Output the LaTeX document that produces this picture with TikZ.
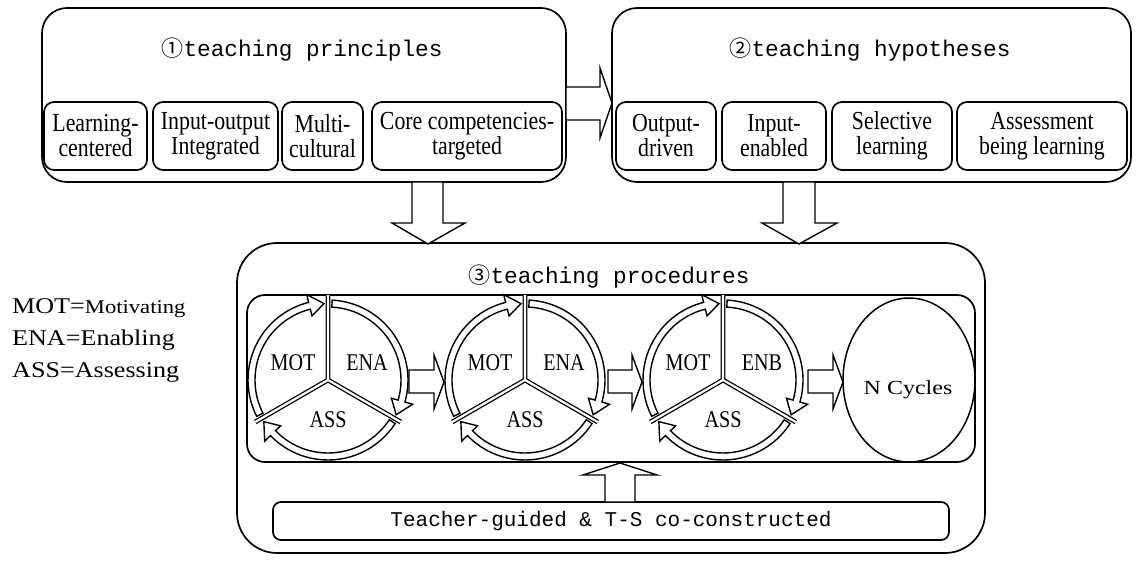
\documentclass[tikz,border=0pt]{standalone}
\usepackage{fontspec}
\setmainfont{Liberation Serif}
\newfontfamily\boxf[FakeStretch=0.84]{Liberation Serif}
\newfontfamily\legf[FakeStretch=1.16]{Liberation Serif}
\newfontfamily\ncf[FakeStretch=1.2]{Liberation Serif}
\newfontfamily\monof{Liberation Mono}
\newfontfamily\circf{Noto Sans CJK SC}
\usetikzlibrary{shapes.geometric,calc}
\tikzset{
  frame/.style={draw, line width=1.7pt, rounded corners=#1, inner sep=0pt, fill=white},
  subbox/.style={frame=10pt, minimum height=68pt, align=center,
    font=\boxf\fontsize{26}{25}\selectfont},
  ttl/.style={font=\monof\fontsize{22.7}{24}\selectfont, inner sep=0pt},
  blk/.style={draw, fill=white, line width=1.4pt, line join=miter},
  arcst/.style={draw, fill=white, line width=1.4pt, line join=miter},
  lab/.style={font=\boxf\fontsize{24}{24}\selectfont, inner sep=0pt},
  leg/.style={font=\legf\fontsize{22.5}{24}\selectfont, inner sep=0pt, anchor=base west},
}
\newcommand\cnum[1]{{\circf\fontsize{22}{22}\selectfont #1}}
\newcommand\harc[2]{%
  \draw[arcst] (#1:80pt) arc[start angle=#1, end angle={#2+11}, radius=80pt]
    -- ({#2+11}:88pt) -- (#2:76.5pt) -- ({#2+11}:66pt) -- ({#2+11}:73pt)
    arc[start angle={#2+11}, end angle=#1, radius=73pt] -- cycle;}
\newcommand\cyc[3]{%
  \begin{scope}[shift={(#2,380)}]
    \harc{207}{93}\harc{87}{-27}\harc{-33}{-147}
    \draw[line width=4.8pt] (0,0) -- (90:85pt) (0,0) -- (210:84pt) (0,0) -- (-30:84pt);
    \draw[white, line width=2.2pt] (0,0) -- (90:85pt) (0,0) -- (210:84pt) (0,0) -- (-30:84pt);
    \node[lab] (#1m) at (-35pt,17pt) {MOT};
    \node[lab] (#1e) at (39pt,17pt) {#3};
    \node[lab] (#1a) at (0pt,-40pt) {ASS};
  \end{scope}}
\begin{document}
\begin{tikzpicture}[x=1pt,y=-1pt]
\useasboundingbox[fill=white] (0,0) rectangle (1137,561);

% box 1
\node[frame=25pt, minimum width=524pt, minimum height=174pt] (box1) at (304,95) {};
\node[ttl] (t1) at (302,50) {\cnum{①}teaching principles};
\node[subbox, minimum width=103pt] (p1) at (95.5,136) {Learning-\\centered};
\node[subbox, minimum width=125pt] (p2) at (215.5,136) {Input-output\\Integrated};
\node[subbox, minimum width=81pt] (p3) at (322.5,136) {Multi-\\cultural};
\node[subbox, minimum width=190pt] (p4) at (467,136) {Core competencies-\\targeted};

% box 2
\node[frame=25pt, minimum width=519pt, minimum height=174pt] (box2) at (871.5,95) {};
\node[ttl] (t2) at (870,50) {\cnum{②}teaching hypotheses};
\node[subbox, minimum width=100pt] (h1) at (666,136) {Output-\\driven};
\node[subbox, minimum width=104pt] (h2) at (774,136) {Input-\\enabled};
\node[subbox, minimum width=120pt] (h3) at (892,136) {Selective\\learning};
\node[subbox, minimum width=170pt] (h4) at (1042,136) {Assessment\\being learning};

% box 3
\node[frame=40pt, minimum width=748pt, minimum height=310pt] (box3) at (611,398) {};
\node[ttl] (t3) at (609,277) {\cnum{③}teaching procedures};
\node[frame=18pt, minimum width=728pt, minimum height=167pt] (proc) at (611,378.5) {};
\node[frame=8pt, minimum width=676pt, minimum height=38pt,
  font=\monof\fontsize{21}{24}\selectfont] (teach) at (611,521) {Teacher-guided \& T-S co-constructed};

% cycles
\cyc{c1}{328}{ENA}
\cyc{c2}{525}{ENA}
\cyc{c3}{723}{ENB}
\node[draw, ellipse, line width=1.5pt, minimum width=132pt, minimum height=164pt] (ncyc) at (909,380) {};
\node[font=\ncf\fontsize{20}{22}\selectfont, inner sep=0pt] (ncl) at (908,390) {N Cycles};

% block arrows
\draw[blk] (566,87) -- (600,87) -- (600,68) -- (612,103) -- (600,138) -- (600,120) -- (566,120) -- cycle;
\draw[blk] (412,182) -- (412,223) -- (392,223) -- (428,244) -- (465,223) -- (443,223) -- (443,182) -- cycle;
\draw[blk] (783,182) -- (783,223) -- (762,223) -- (799,244) -- (837,223) -- (815,223) -- (815,182) -- cycle;
\draw[blk] (409,370) -- (434,370) -- (434,355) -- (444,382) -- (434,409) -- (434,393) -- (409,393) -- cycle;
\draw[blk] (608,370) -- (632,370) -- (632,355) -- (642,382) -- (632,409) -- (632,393) -- (608,393) -- cycle;
\draw[blk] (808,370) -- (833,370) -- (833,355) -- (843,382) -- (833,409) -- (833,393) -- (808,393) -- cycle;
\draw[blk] (605,502) -- (605,475) -- (583,475) -- (620,463) -- (657,475) -- (635,475) -- (635,502) -- cycle;

% legend
\node[leg] (l1) at (12,313) {MOT={\fontsize{19.5}{22}\selectfont Motivating}};
\node[leg] (l2) at (12,345) {ENA=Enabling};
\node[leg] (l3) at (12,377) {ASS=Assessing};
\end{tikzpicture}
\end{document}
